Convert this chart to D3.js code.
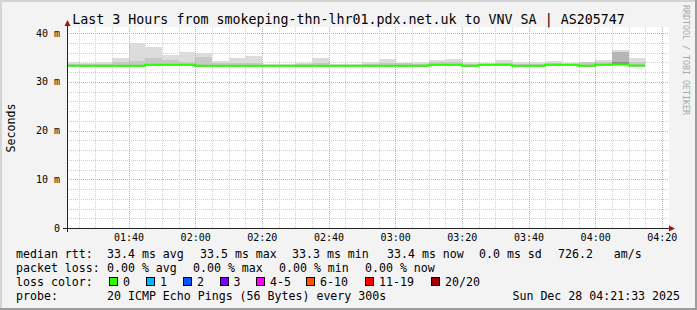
<!DOCTYPE html>
<html lang="en">
<head>
<meta charset="UTF-8">
<title>SmokePing - Last 3 Hours</title>
<script src="https://d3js.org/d3.v7.min.js"></script>
<style>
  body { margin: 0; background: #f3f3f3; }
  svg text { font-family: "DejaVu Sans Mono", monospace; fill: #000; }
</style>
</head>
<body>
<div id="chart"></div>
<script>
// 5 minute bins, the first one is cut off by the left edge of the graph
var binStart = ["01:20", "01:25", "01:30", "01:35", "01:40", "01:45", "01:50", "01:55",
                "02:00", "02:05", "02:10", "02:15", "02:20", "02:25", "02:30", "02:35",
                "02:40", "02:45", "02:50", "02:55", "03:00", "03:05", "03:10", "03:15",
                "03:20", "03:25", "03:30", "03:35", "03:40", "03:45", "03:50", "03:55",
                "04:00", "04:05", "04:10"];

// median rtt in ms (green line, 0 loss everywhere)
var medianRtt = [33.3, 33.3, 33.3, 33.3, 33.3, 33.5, 33.5, 33.5,
                 33.3, 33.3, 33.3, 33.3, 33.3, 33.3, 33.3, 33.3,
                 33.3, 33.3, 33.3, 33.3, 33.3, 33.3, 33.5, 33.5,
                 33.3, 33.5, 33.5, 33.3, 33.3, 33.5, 33.5, 33.3,
                 33.5, 33.55, 33.35];

// smoke: lowest ping, top of darker band, top of light band (max ping)
var smokeMin = [33.1, 33.1, 33.1, 33.1, 33.1, 33.2, 33.2, 33.2,
                33.1, 33.1, 33.1, 33.1, 33.1, 33.1, 33.1, 33.1,
                33.1, 33.1, 33.1, 33.1, 33.1, 33.1, 33.2, 33.2,
                33.1, 33.2, 33.2, 33.1, 33.1, 33.2, 33.2, 33.1,
                33.2, 33.6, 33.1];
var smokeMid = [33.6, 33.6, 33.6, 34.1, 34.2, 34.9, 34.5, 34.05,
                35.0, 33.8, 33.8, 33.9, 33.5, 33.5, 33.6, 33.8,
                33.5, 33.5, 33.7, 33.9, 33.8, 33.7, 34.0, 34.0,
                33.7, 33.7, 33.9, 33.7, 33.7, 33.9, 33.7, 34.0,
                34.0, 36.1, 34.0];
var smokeMax = [34.0, 33.8, 34.0, 34.8, 37.9, 37.2, 35.5, 36.1,
                35.8, 34.3, 34.9, 35.2, 33.6, 33.6, 33.9, 34.9,
                33.6, 33.6, 34.0, 34.6, 33.85, 34.0, 34.4, 34.6,
                34.0, 33.8, 34.4, 34.0, 34.0, 34.2, 33.8, 34.1,
                34.5, 36.5, 34.9];
// darkest core, only where the pings bunch up
var smokeCore = [null, null, null, null, null, null, null, null,
                 null, null, null, null, null, null, null, null,
                 null, null, null, null, null, null, null, null,
                 null, null, null, null, null, null, null, null,
                 null, 34.05, null];

var yTicks = [0, 10, 20, 30, 40];

var rttLegend = ["33.4 ms avg", "33.5 ms max", "33.3 ms min", "33.4 ms now", "0.0 ms sd", "726.2   am/s"];
var lossLegend = ["0.00 % avg", "0.00 % max", "0.00 % min", "0.00 % now"];
var lossLevels = ["0", "1", "2", "3", "4-5", "6-10", "11-19", "20/20"];
var lossColors = ["#26ff00", "#00b8ff", "#0059ff", "#7e00ff", "#ff00ff", "#ff5500", "#ff0000", "#a10000"];
var probeText = "20 ICMP Echo Pings (56 Bytes) every 300s";
var stampText = "Sun Dec 28 04:21:33 2025";
var titleText = "Last 3 Hours from smokeping-thn-lhr01.pdx.net.uk to VNV SA | AS205747";

var W = 697, H = 310;
var plotLeft = 67, plotRight = 667, plotTop = 28, plotBottom = 228;

function toDate(hm) {
    var p = hm.split(":");
    return new Date(2025, 11, 28, +p[0], +p[1], 0);
}

var tStart = new Date(2025, 11, 28, 1, 21, 33);
var tEnd = new Date(2025, 11, 28, 4, 21, 33);

var x = d3.scaleTime().domain([tStart, tEnd]).range([plotLeft, plotRight]);
var y = d3.scaleLinear().domain([0, 41.03]).range([plotBottom, plotTop]);

var svg = d3.select("#chart").append("svg")
    .attr("width", W)
    .attr("height", H)
    .style("display", "block");

// frame with the rrdtool shading
svg.append("rect").attr("width", W).attr("height", H).attr("fill", "#f3f3f3");
svg.append("path").attr("d", `M0,0H${W}V2H2V${H}H0Z`).attr("fill", "#d4d4d4");
svg.append("path").attr("d", `M${W},${H}H0V${H - 2}H${W - 2}V0H${W}Z`).attr("fill", "#9c9c9c");

// canvas
svg.append("rect")
    .attr("x", plotLeft).attr("y", plotTop - 1)
    .attr("width", plotRight - plotLeft + 2).attr("height", plotBottom - plotTop + 1)
    .attr("fill", "#fff");

svg.append("clipPath").attr("id", "plot")
    .append("rect")
    .attr("x", plotLeft).attr("y", plotTop - 1)
    .attr("width", plotRight - plotLeft).attr("height", plotBottom - plotTop + 1);

// minor grid
var grid = svg.append("g").attr("shape-rendering", "crispEdges");
var minorY = d3.range(2, 41, 2).filter(d => d % 10 !== 0);
grid.selectAll(".hmin").data(minorY).enter().append("line")
    .attr("x1", plotLeft).attr("x2", plotRight + 1)
    .attr("y1", d => Math.round(y(d)) + 0.5).attr("y2", d => Math.round(y(d)) + 0.5)
    .attr("stroke", "#cfcfcf").attr("stroke-dasharray", "1,1");

var minorX = d3.timeMinute.every(5).range(tStart, tEnd).filter(d => d.getMinutes() % 20 !== 0);
grid.selectAll(".vmin").data(minorX).enter().append("line")
    .attr("y1", plotTop - 1).attr("y2", plotBottom)
    .attr("x1", d => Math.round(x(d)) + 0.5).attr("x2", d => Math.round(x(d)) + 0.5)
    .attr("stroke", "#cfcfcf").attr("stroke-dasharray", "1,1");

var majorX = d3.timeMinute.every(20).range(tStart, tEnd);

// smoke
var smoke = svg.append("g").attr("clip-path", "url(#plot)").attr("shape-rendering", "crispEdges");
binStart.forEach(function (b, i) {
    var x0 = x(toDate(b)), x1 = x(d3.timeMinute.offset(toDate(b), 5));
    smoke.append("rect")
        .attr("x", x0).attr("width", x1 - x0)
        .attr("y", y(smokeMax[i])).attr("height", y(smokeMin[i]) - y(smokeMax[i]))
        .attr("fill", "#dcdcdc");
    smoke.append("rect")
        .attr("x", x0).attr("width", x1 - x0)
        .attr("y", y(smokeMid[i])).attr("height", y(smokeMin[i]) - y(smokeMid[i]))
        .attr("fill", smokeCore[i] ? "#b6b6b6" : "#c8c8c8");
    if (smokeCore[i]) {
        smoke.append("rect")
            .attr("x", x0).attr("width", x1 - x0)
            .attr("y", y(smokeCore[i])).attr("height", y(smokeMin[i]) - y(smokeCore[i]))
            .attr("fill", "#8c8c8c");
    }
});

// major grid goes over the smoke
grid = svg.append("g").attr("shape-rendering", "crispEdges");
grid.selectAll(".hmaj").data(yTicks.filter(d => d > 0)).enter().append("line")
    .attr("x1", plotLeft).attr("x2", plotRight + 1)
    .attr("y1", d => Math.round(y(d)) + 0.5).attr("y2", d => Math.round(y(d)) + 0.5)
    .attr("stroke", "#f09a9a").attr("stroke-dasharray", "1,1");
grid.selectAll(".vmaj").data(majorX).enter().append("line")
    .attr("y1", plotTop - 1).attr("y2", plotBottom)
    .attr("x1", d => Math.round(x(d)) + 0.5).attr("x2", d => Math.round(x(d)) + 0.5)
    .attr("stroke", "#f09a9a").attr("stroke-dasharray", "1,1");

// median line
var pts = binStart.map((b, i) => [toDate(b), medianRtt[i]]);
pts.push([d3.timeMinute.offset(toDate(binStart[binStart.length - 1]), 5), medianRtt[medianRtt.length - 1]]);
var line = d3.line()
    .x(d => x(d[0]))
    .y(d => y(d[1]))
    .curve(d3.curveStepAfter);
svg.append("path")
    .attr("clip-path", "url(#plot)")
    .attr("d", line(pts))
    .attr("fill", "none")
    .attr("stroke", lossColors[0])
    .attr("stroke-width", 2);

// axes
var axisG = svg.append("g").attr("shape-rendering", "crispEdges");
axisG.append("line").attr("x1", plotLeft - 4).attr("x2", plotRight + 3)
    .attr("y1", plotBottom + 0.5).attr("y2", plotBottom + 0.5).attr("stroke", "#222");
axisG.append("line").attr("x1", plotLeft + 0.5).attr("x2", plotLeft + 0.5)
    .attr("y1", plotBottom + 4).attr("y2", plotTop - 4).attr("stroke", "#222");
svg.append("path").attr("d", `M${plotLeft + 0.5},${plotTop - 8}L${plotLeft + 3.5},${plotTop - 2}H${plotLeft - 2.5}Z`).attr("fill", "#a01414");
svg.append("path").attr("d", `M${plotRight + 8},${plotBottom + 0.5}L${plotRight + 2},${plotBottom - 2.5}V${plotBottom + 3.5}Z`).attr("fill", "#a01414");

var yAxis = d3.axisLeft(y).tickValues(yTicks)
    .tickFormat(d => d === 0 ? "0" : d + " m")
    .tickSize(0).tickPadding(7);
svg.append("g").attr("transform", `translate(${plotLeft},0)`).call(yAxis)
    .call(g => g.select(".domain").remove())
    .selectAll("text")
    .attr("font-family", "DejaVu Sans Mono")
    .attr("font-size", 10)
    .attr("fill", "#000");

var xAxis = d3.axisBottom(x).ticks(d3.timeMinute.every(20))
    .tickFormat(d3.timeFormat("%H:%M"))
    .tickSize(0).tickPadding(6);
svg.append("g").attr("transform", `translate(0,${plotBottom})`).call(xAxis)
    .call(g => g.select(".domain").remove())
    .selectAll("text")
    .attr("font-family", "DejaVu Sans Mono")
    .attr("font-size", 10)
    .attr("fill", "#000");

// title and side labels
svg.append("text").attr("x", 348.5).attr("y", 24)
    .attr("text-anchor", "middle").attr("font-size", 13.3)
    .text(titleText);

svg.append("text")
    .attr("transform", "translate(15,128) rotate(-90)")
    .attr("text-anchor", "middle").attr("font-size", 11.6)
    .text("Seconds");

svg.append("text")
    .attr("transform", "translate(683,5) rotate(90)")
    .attr("font-size", 8.3).style("fill", "#a8a8a8")
    .text("RRDTOOL / TOBI OETIKER");

// legend
var legend = svg.append("g").attr("font-size", 11.6);
function legendText(xp, yp, s, anchor) {
    legend.append("text").attr("x", xp).attr("y", yp)
        .attr("text-anchor", anchor || "start")
        .style("white-space", "pre")
        .text(s);
}

legendText(16, 258, "median rtt:");
[107, 200, 292, 387, 479, 558].forEach((xp, i) => legendText(xp, 258, rttLegend[i]));

legendText(16, 272, "packet loss:");
[107, 193, 279, 365].forEach((xp, i) => legendText(xp, 272, lossLegend[i]));

legendText(16, 286, "loss color:");
[109, 146, 183, 219.5, 256, 306, 365, 431].forEach(function (xp, i) {
    legend.append("rect")
        .attr("x", xp + 0.5).attr("y", 277.5)
        .attr("width", 8).attr("height", 8)
        .attr("fill", lossColors[i])
        .attr("stroke", "#000")
        .attr("shape-rendering", "crispEdges");
    legendText(xp + 14, 286, lossLevels[i]);
});

legendText(16, 300, "probe:");
legendText(107, 300, probeText);
legendText(680, 300, stampText, "end");
</script>
</body>
</html>
